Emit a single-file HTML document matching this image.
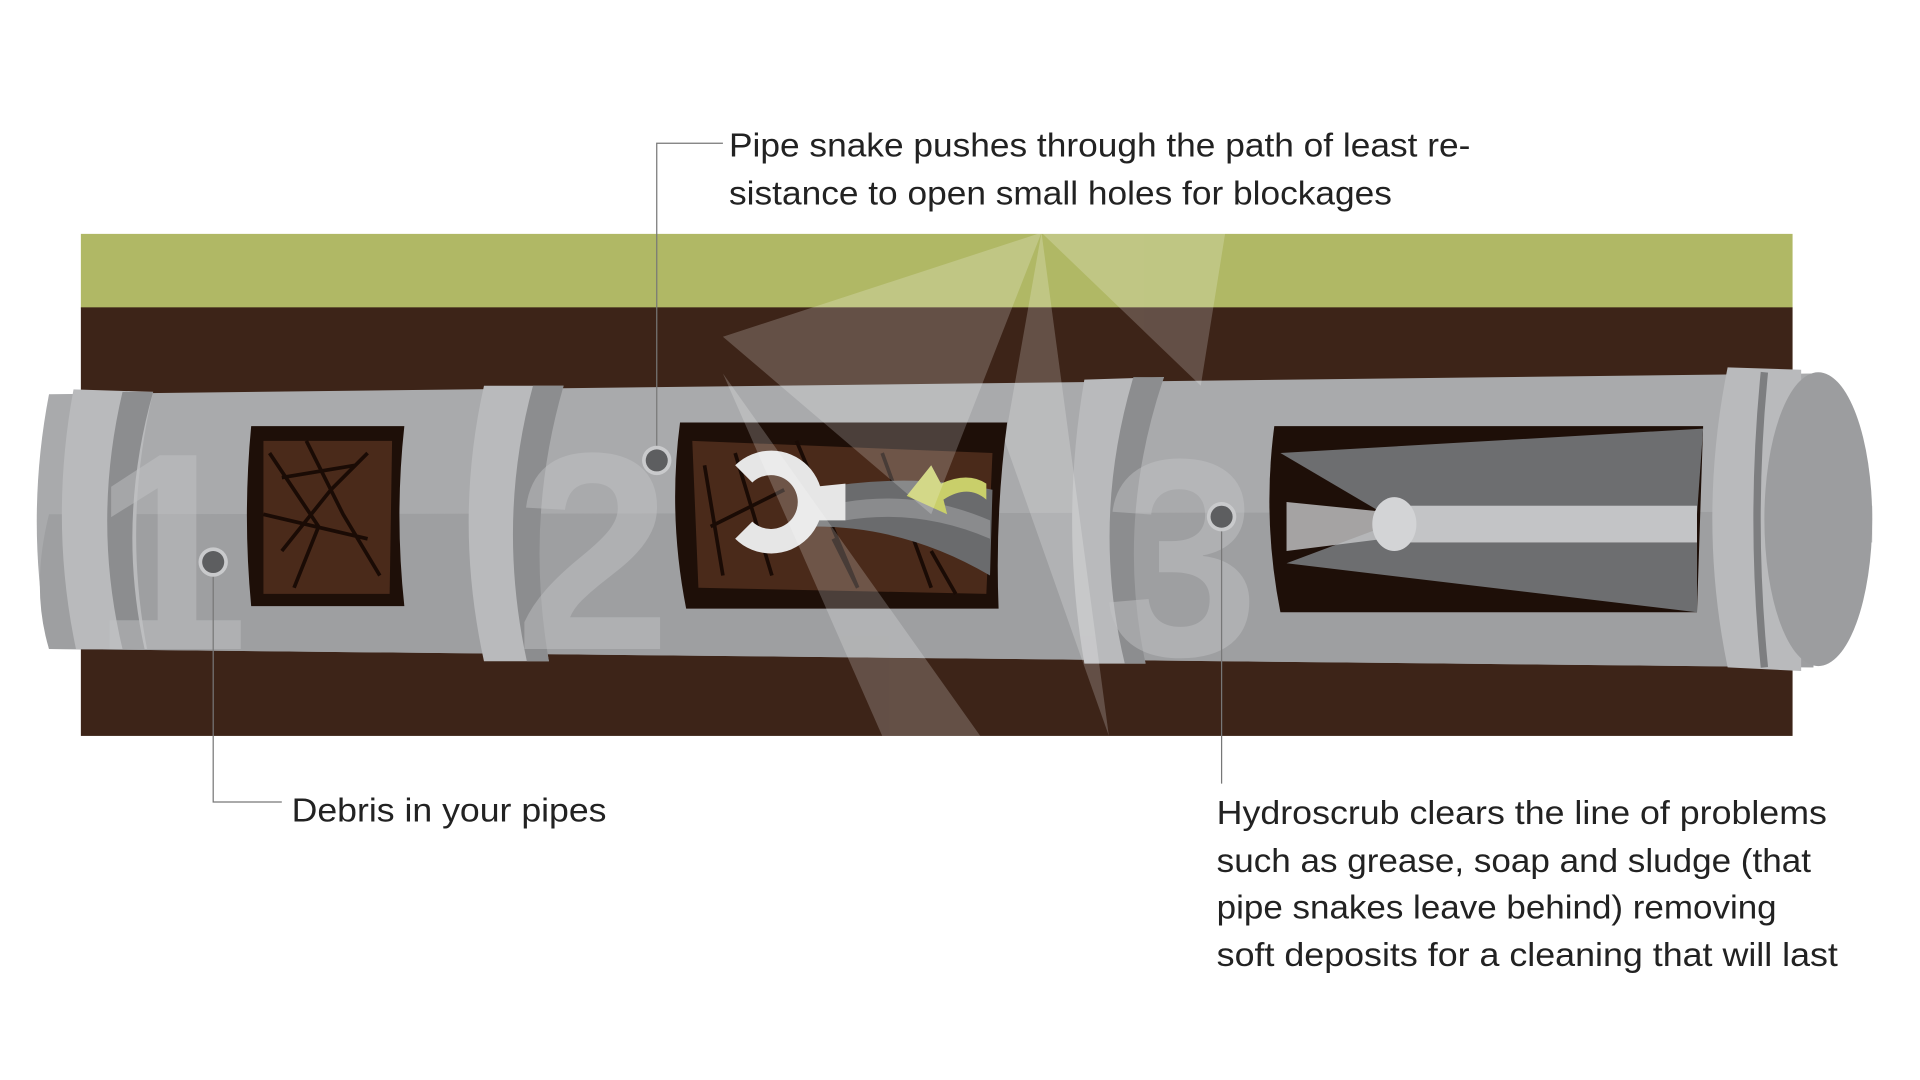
<!DOCTYPE html>
<html><head><meta charset="utf-8">
<style>
html,body{margin:0;padding:0;background:#fff;width:1920px;height:1080px;overflow:hidden}
svg{display:block}
text{font-family:"Liberation Sans",sans-serif;fill:#222}
</style></head>
<body>
<svg width="1920" height="1080" viewBox="0 0 1567 882" preserveAspectRatio="none" xmlns="http://www.w3.org/2000/svg">
<rect x="0" y="0" width="1567" height="882" fill="#fff"/>
<rect x="66" y="191" width="1397" height="61" fill="#b0b865"/>
<rect x="66" y="251" width="1397" height="350" fill="#3d2418"/>
<path d="M40,322 L1480,305 L1480,545 L40,530 Q20,426 40,322 Z" fill="#a9aaac"/>
<path d="M40,420 L1480,418 L1480,545 L40,530 Q25,480 40,420 Z" fill="#9e9fa1"/>
<path d="M205,348 L330,348 Q322,421 330,495 L205,495 Q198,421 205,348 Z" fill="#1e0f08"/>
<path d="M215,360 L320,360 L318,485 L215,485 Z" fill="#4a2a1a"/>
<path d="M555,345 L822,345 Q812,421 815,497 L560,497 Q545,421 555,345 Z" fill="#1e0f08"/>
<path d="M565,360 L810,370 L805,485 L570,480 Z" fill="#4a2a1a"/>
<path d="M1040,348 L1390,348 L1385,500 L1045,500 Q1030,424 1040,348 Z" fill="#1e0f08"/>
<path d="M1045,370 L1390,350 L1385,420 L1130,420 Z" fill="#6d6e70"/>
<path d="M1130,430 L1385,430 L1385,500 L1050,460 Z" fill="#6d6e70"/>
<g stroke="#1a0b05" stroke-width="3" fill="none">
<path d="M220,370 L260,430 L240,480 M250,360 L280,420 L310,470 M300,370 L270,400 L230,450 M215,420 L300,440 M230,390 L290,380 M575,380 L590,470 M600,370 L630,470 M650,360 L700,480 M680,440 L700,480 M720,370 L760,480 M580,430 L640,400 M760,450 L780,485"/>
</g>
<path d="M660,400 Q740,385 810,400 L808,470 Q740,430 665,430 Z" fill="#6a6b6d"/>
<path d="M690,410 Q750,400 808,425 L808,440 Q750,415 690,425 Z" fill="#8a8b8d"/>
<path d="M600,380 A42,42 0 1 1 600,440 L614,426 A22,22 0 1 0 614,394 Z" fill="#e6e6e6"/>
<path d="M660,398 L690,395 L690,425 L660,425 Z" fill="#e6e6e6"/>
<path d="M740,405 L760,380 L768,395 Q790,385 805,395 L805,408 Q790,395 770,408 L773,420 Z" fill="#c9cf6a"/>
<path d="M1050,410 L1130,418 L1130,440 L1050,450 Z" fill="#c7c8ca" opacity="0.8"/>
<rect x="1140" y="413" width="245" height="30" fill="#c3c4c6"/>
<ellipse cx="1138" cy="428" rx="18" ry="22" fill="#d3d4d6"/>
<rect x="1430" y="413" width="98" height="30" fill="#c3c4c6"/>
<path d="M60,318 L125,320 Q100,426 120,530 L62,530 Q40,426 60,318 Z" fill="#b9babc"/>
<path d="M100,320 L125,320 Q95,426 118,530 L100,530 Q75,426 100,320 Z" fill="#8c8d8f"/>
<path d="M395,315 L460,315 Q425,420 448,540 L395,540 Q370,426 395,315 Z" fill="#b9babc"/>
<path d="M435,315 L460,315 Q428,425 448,540 L430,540 Q405,425 435,315 Z" fill="#8c8d8f"/>
<path d="M885,310 L950,308 Q905,426 935,542 L885,542 Q865,426 885,310 Z" fill="#b9babc"/>
<path d="M925,308 L950,308 Q910,426 935,542 L918,542 Q890,426 925,308 Z" fill="#8c8d8f"/>
<path d="M1410,300 L1470,302 L1470,548 L1410,545 Q1385,424 1410,300 Z" fill="#b9babc"/>
<ellipse cx="1484" cy="424" rx="44" ry="120" fill="#9c9d9f"/>
<path d="M1440,304 Q1428,424 1440,545" stroke="#7d7e80" stroke-width="6" fill="none"/>
<g font-weight="bold" font-size="230" opacity="0.45">
<text x="75" y="530" style="fill:#c4c5c7">1</text>
<text x="420" y="530" style="fill:#c4c5c7">2</text>
<text x="900" y="535" style="fill:#c4c5c7">3</text>
</g>
<g fill="#ffffff" opacity="0.2">
<polygon points="850,190 590,275 760,420"/>
<polygon points="850,190 820,360 905,601"/>
<polygon points="850,190 980,315 1000,190"/>
<polygon points="590,305 720,601 800,601"/>
</g>
<g stroke="#777" stroke-width="1" fill="none">
<path d="M174,459 L174,655 L230,655"/>
<path d="M536,376 L536,117 L590,117"/>
<path d="M997,422 L997,640"/>
</g>
<g>
<circle cx="174" cy="459" r="12" fill="#c9cacc"/><circle cx="174" cy="459" r="9" fill="#5d5e60"/>
<circle cx="536" cy="376" r="12" fill="#c9cacc"/><circle cx="536" cy="376" r="9" fill="#5d5e60"/>
<circle cx="997" cy="422" r="12" fill="#c9cacc"/><circle cx="997" cy="422" r="9" fill="#5d5e60"/>
</g>
<g font-size="27">
<text x="595" y="128" textLength="605" lengthAdjust="spacingAndGlyphs">Pipe snake pushes through the path of least re-</text>
<text x="595" y="167" textLength="541" lengthAdjust="spacingAndGlyphs">sistance to open small holes for blockages</text>
<text x="238" y="671" textLength="257" lengthAdjust="spacingAndGlyphs">Debris in your pipes</text>
<text x="993" y="673" textLength="498" lengthAdjust="spacingAndGlyphs">Hydroscrub clears the line of problems</text>
<text x="993" y="712" textLength="485" lengthAdjust="spacingAndGlyphs">such as grease, soap and sludge (that</text>
<text x="993" y="750" textLength="457" lengthAdjust="spacingAndGlyphs">pipe snakes leave behind) removing</text>
<text x="993" y="789" textLength="507" lengthAdjust="spacingAndGlyphs">soft deposits for a cleaning that will last</text>
</g>
</svg>
</body></html>
